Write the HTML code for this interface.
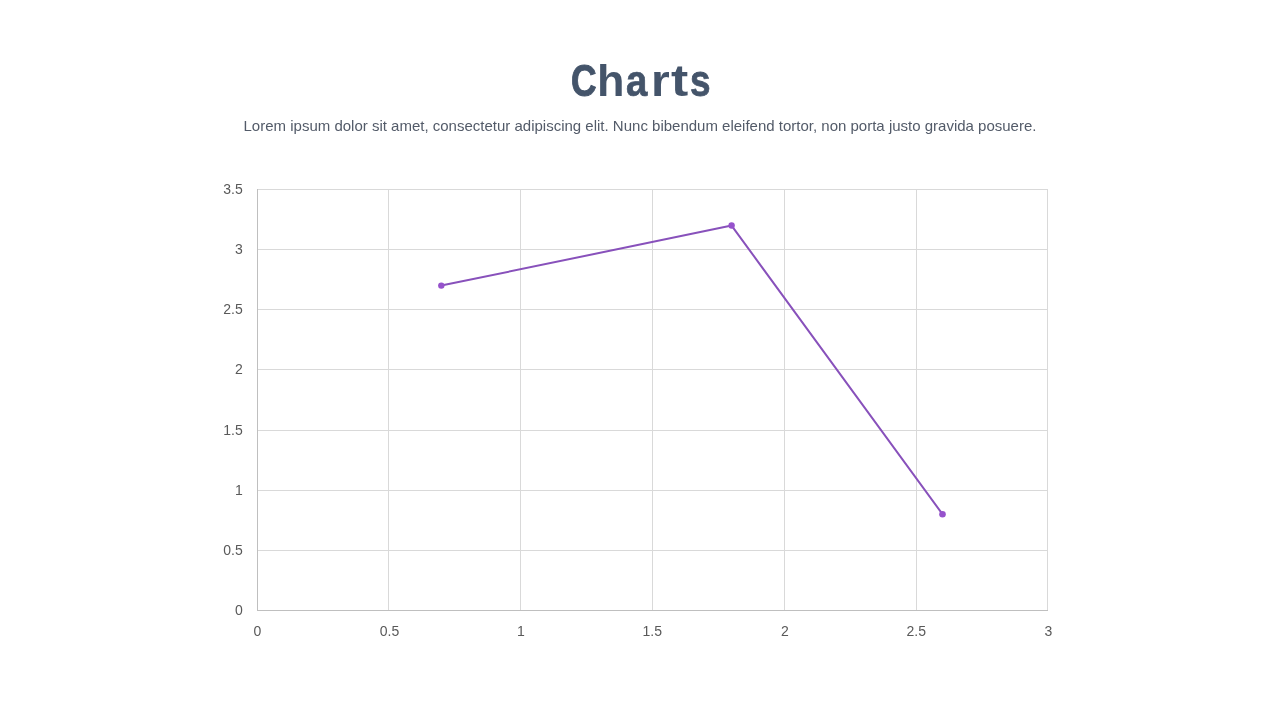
<!DOCTYPE html>
<html><head><meta charset="utf-8">
<style>
html,body{margin:0;padding:0;background:#fff;}
body{width:1280px;height:720px;position:relative;overflow:hidden;will-change:transform;font-family:"Liberation Sans",sans-serif;}
#title{position:absolute;left:0;width:1280px;top:51px;height:60px;font-size:45px;font-weight:bold;color:#44546a;line-height:60px;}
#title span{position:absolute;top:0;transform-origin:0 0;}
#sub{position:absolute;left:0;width:1280px;top:116px;text-align:center;font-size:15px;color:#535b69;line-height:20px;}
svg{position:absolute;left:0;top:0;}
.yl{font-size:14px;fill:#595959;text-anchor:end;}
.xl{font-size:14px;fill:#595959;text-anchor:middle;}
</style></head><body>
<div id="title"><span style="left:570.8px;transform:scaleX(0.786);-webkit-text-stroke:1px #44546a">C</span><span style="left:596.95px">h</span><span style="left:625.9px;transform:scaleX(0.854);-webkit-text-stroke:0.7px #44546a">a</span><span style="left:650.8px;transform:scaleX(1.07)">r</span><span style="left:671.3px;transform:scaleX(1.15)">t</span><span style="left:690.2px;transform:scaleX(0.82);-webkit-text-stroke:0.8px #44546a">s</span></div>
<div id="sub">Lorem ipsum dolor sit amet, consectetur adipiscing elit. Nunc bibendum eleifend tortor, non porta justo gravida posuere.</div>
<svg width="1280" height="720" viewBox="0 0 1280 720">
<g stroke="#d9d9d9" stroke-width="1" fill="none" shape-rendering="crispEdges">
<path d="M258 189.5H1047M258 249.5H1047M258 309.5H1047M258 369.5H1047M258 430.5H1047M258 490.5H1047M258 550.5H1047"/>
<path d="M388.5 189V610M520.5 189V610M652.5 189V610M784.5 189V610M916.5 189V610M1047.5 189V610"/>
</g>
<path d="M257.5 189V611M257 610.5H1048" stroke="#bfbfbf" stroke-width="1" fill="none" shape-rendering="crispEdges"/>
<g class="yl">
<text x="242.8" y="194">3.5</text>
<text x="242.8" y="254">3</text>
<text x="242.8" y="314">2.5</text>
<text x="242.8" y="374">2</text>
<text x="242.8" y="435">1.5</text>
<text x="242.8" y="495">1</text>
<text x="242.8" y="555">0.5</text>
<text x="242.8" y="615">0</text>
</g>
<g class="xl">
<text x="257.5" y="636">0</text>
<text x="389.5" y="636">0.5</text>
<text x="521" y="636">1</text>
<text x="652.3" y="636">1.5</text>
<text x="784.8" y="636">2</text>
<text x="916.3" y="636">2.5</text>
<text x="1048.5" y="636">3</text>
</g>
<polyline points="441.3,285.6 731.6,225.6 942.5,514.2" stroke="#8851bb" stroke-width="2" fill="none" stroke-linejoin="round"/>
<g fill="#9652cc">
<circle cx="441.3" cy="285.6" r="3.2"/>
<circle cx="731.6" cy="225.5" r="3.2"/>
<circle cx="942.5" cy="514.2" r="3.3"/>
</g>
</svg>
</body></html>
